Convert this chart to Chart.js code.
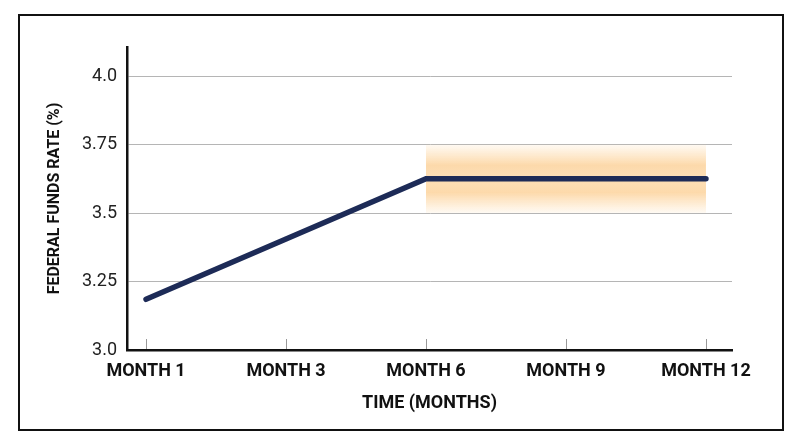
<!DOCTYPE html>
<html>
<head>
<meta charset="utf-8">
<script src="https://cdn.jsdelivr.net/npm/chart.js@4.4.1/dist/chart.umd.min.js"></script>
<style>
  html, body { margin: 0; padding: 0; background: #fff; }
  #wrap { position: relative; width: 800px; height: 447px; }
  #frame { position: absolute; left: 18px; top: 14px; width: 766px; height: 417px; border: 2.5px solid #111; box-sizing: border-box; pointer-events: none; }
</style>
</head>
<body>
<div id="wrap">
  <canvas id="rateChart" width="800" height="447"></canvas>
  <div id="frame"></div>
</div>
<script>
const months = ['MONTH 1', 'MONTH 3', 'MONTH 6', 'MONTH 9', 'MONTH 12'];
const rates = [3.185, 3.405, 3.625, 3.625, 3.625];
const yTicks = [3.0, 3.25, 3.5, 3.75, 4.0];
const yTickLabels = ['3.0', '3.25', '3.5', '3.75', '4.0'];
// shaded range from MONTH 6 to MONTH 12
const bandFrom = 2;
const bandTo = 4;
const bandRange = [3.5, 3.75];

const bandPlugin = {
    id: 'band',
    beforeDatasetsDraw(chart) {
        const { ctx, scales: { x, y } } = chart;
        const x1 = x.getPixelForValue(bandFrom);
        const x2 = x.getPixelForValue(bandTo);
        const top = y.getPixelForValue(bandRange[1]);
        const bot = y.getPixelForValue(bandRange[0]);
        const g = ctx.createLinearGradient(0, top, 0, bot);
        g.addColorStop(0, 'rgba(253, 214, 160, 0.12)');
        g.addColorStop(0.3, 'rgba(252, 208, 150, 0.8)');
        g.addColorStop(0.5, 'rgba(252, 212, 158, 0.75)');
        g.addColorStop(0.7, 'rgba(252, 208, 150, 0.8)');
        g.addColorStop(1, 'rgba(253, 214, 160, 0.12)');
        ctx.save();
        ctx.fillStyle = g;
        ctx.fillRect(x1, top, x2 - x1, bot - top);
        ctx.restore();
    }
};

const tickMarks = {
    id: 'tickMarks',
    afterDraw(chart) {
        const { ctx, chartArea, scales: { x } } = chart;
        ctx.save();
        ctx.strokeStyle = '#999';
        ctx.lineWidth = 1;
        months.forEach((m, i) => {
            const px = Math.round(x.getPixelForValue(i)) + 0.5;
            ctx.beginPath();
            ctx.moveTo(px, chartArea.bottom - 1);
            ctx.lineTo(px, chartArea.bottom - 11);
            ctx.stroke();
        });
        ctx.restore();
    }
};

const ctx = document.getElementById('rateChart').getContext('2d');
new Chart(ctx, {
    type: 'line',
    data: {
        datasets: [{
            data: months.map((m, i) => ({ x: i, y: rates[i] })),
            borderColor: '#1d2b57',
            borderWidth: 5.5,
            borderCapStyle: 'round',
            pointRadius: 0,
            tension: 0,
            fill: false
        }]
    },
    options: {
        responsive: false,
        animation: false,
        layout: { padding: { top: 47, right: 68, left: 0, bottom: 0 } },
        plugins: {
            legend: { display: false },
            tooltip: { enabled: false }
        },
        scales: {
            x: {
                type: 'linear',
                min: -0.136,
                max: 4.186,
                afterBuildTicks: s => { s.ticks = months.map((m, i) => ({ value: i })); },
                afterFit: s => { s.height = 97; },
                grid: { display: false, drawTicks: false },
                border: { display: true, color: '#111', width: 2.5 },
                ticks: {
                    autoSkip: false,
                    maxRotation: 0,
                    padding: 11,
                    color: '#111',
                    font: { family: 'Roboto', size: 18, weight: 'bold' },
                    callback: v => months[v]
                },
                title: {
                    display: true,
                    text: 'TIME (MONTHS)',
                    color: '#111',
                    font: { family: 'Roboto', size: 18, weight: 'bold' },
                    padding: { top: 0, bottom: 33 }
                }
            },
            y: {
                min: 3.0,
                max: 4.106,
                afterBuildTicks: s => { s.ticks = yTicks.map(v => ({ value: v })); },
                afterFit: s => { s.width = 127; },
                grid: { color: '#b5b5b5', lineWidth: 1, drawTicks: false },
                border: { display: true, color: '#111', width: 2.5 },
                ticks: {
                    padding: 10,
                    color: '#222',
                    font: { family: 'Roboto', size: 18 },
                    callback: v => yTickLabels[yTicks.indexOf(v)]
                },
                title: {
                    display: true,
                    text: 'FEDERAL FUNDS RATE (%)',
                    color: '#111',
                    font: { family: 'Roboto', size: 16, weight: 'bold' },
                    padding: { top: 45, bottom: 0 }
                }
            }
        }
    },
    plugins: [bandPlugin, tickMarks]
});
</script>
</body>
</html>
